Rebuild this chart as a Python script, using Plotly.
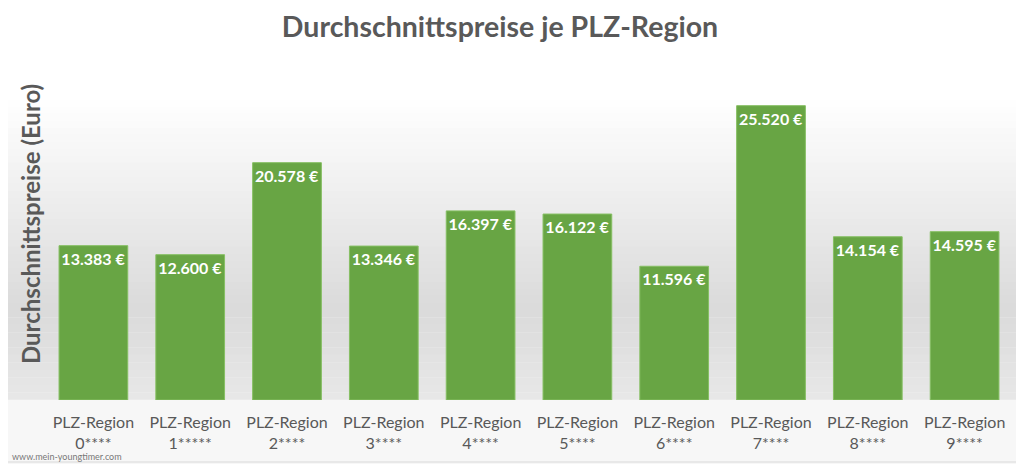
import plotly.graph_objects as go

# Daten aus dem Diagramm
regionen = ["PLZ-Region<br>0****", "PLZ-Region<br>1*****", "PLZ-Region<br>2****",
            "PLZ-Region<br>3****", "PLZ-Region<br>4****", "PLZ-Region<br>5****",
            "PLZ-Region<br>6****", "PLZ-Region<br>7****", "PLZ-Region<br>8****",
            "PLZ-Region<br>9****"]
preise = [13383, 12600, 20578, 13346, 16397, 16122, 11596, 25520, 14154, 14595]

grau = "#595959"

# Plotbereich auf dem Bildschirm (Seite hat 8px Rand)
P_L, P_R, P_T, P_B = 45, 1013, 54, 400


def px_x(sx):
    return (sx - P_L) / (P_R - P_L)


def px_y(sy):
    return (P_B - sy) / (P_B - P_T)


fig = go.Figure(go.Bar(
    x=regionen, y=preise,
    marker=dict(color="#68a544", line=dict(color="#86bf63", width=1)),
    texttemplate="%{y:,.0f} €", textposition="inside", insidetextanchor="end",
    textangle=0,
    textfont=dict(family="Lato", size=16, color="white", weight="bold"),
    hoverinfo="skip",
))


def band(y0, y1, c):
    fig.add_shape(type="rect", xref="paper", yref="paper",
                  x0=px_x(0), x1=px_x(1030), y0=px_y(y1), y1=px_y(y0) + 0.001,
                  fillcolor=c, line_width=0, layer="below")


def mix(a, b, t):
    return int(round(a + (b - a) * t))


# Hintergrund-Verlauf mit Streifen
band(0, 100, "#ffffff")
n = 30
for i in range(n):
    g = mix(255, 218, (i + 0.5) / n)
    band(100 + i * 210 / n, 100 + (i + 1) * 210 / n, f"rgb({g},{g},{g})")
n = 12
for i in range(n):
    g = mix(218, 232, (i + 0.5) / n)
    band(310 + i * 90 / n, 310 + (i + 1) * 90 / n, f"rgb({g},{g},{g})")
band(400, 470, "#f7f7f7")

# Rahmen
fig.add_shape(type="rect", xref="paper", yref="paper",
              x0=px_x(1), x1=px_x(1022), y0=px_y(462), y1=px_y(1),
              line=dict(color="#d9d9d9", width=1), fillcolor="rgba(0,0,0,0)", layer="below")

fig.add_annotation(text="Durchschnittspreise (Euro)", textangle=-90,
                   xref="paper", yref="paper", x=px_x(30), y=px_y(224),
                   xanchor="center", yanchor="middle",
                   showarrow=False, font=dict(family="Lato", size=24, color=grau, weight="bold"))
fig.add_annotation(text="www.mein-youngtimer.com", xref="paper", yref="paper",
                   x=px_x(10), y=px_y(456), xanchor="left", yanchor="middle", showarrow=False,
                   font=dict(family="Lato", size=9, color="#777777"))

fig.update_layout(
    width=1024, height=464,
    separators=",.",
    title=dict(text="Durchschnittspreise je PLZ-Region", x=(500 - 8) / 1024, y=1 - 19 / 464,
               xanchor="center", yanchor="middle",
               font=dict(family="Lato", size=28.5, color=grau, weight="bold")),
    paper_bgcolor="white", plot_bgcolor="rgba(0,0,0,0)",
    margin=dict(l=P_L - 8, r=1024 - (P_R - 8), t=P_T - 8, b=464 - (P_B - 8)),
    bargap=0.29,
    showlegend=False,
    uniformtext=dict(minsize=16, mode="show"),
    xaxis=dict(tickfont=dict(family="Lato", size=16, color=grau), showgrid=False,
               showline=False, ticks="outside", ticklen=8, tickcolor="rgba(0,0,0,0)",
               automargin=False),
    yaxis=dict(range=[0, 30000], showgrid=False, showticklabels=False,
               zeroline=False, showline=False, automargin=False),
)

fig.write_html("out.html")
